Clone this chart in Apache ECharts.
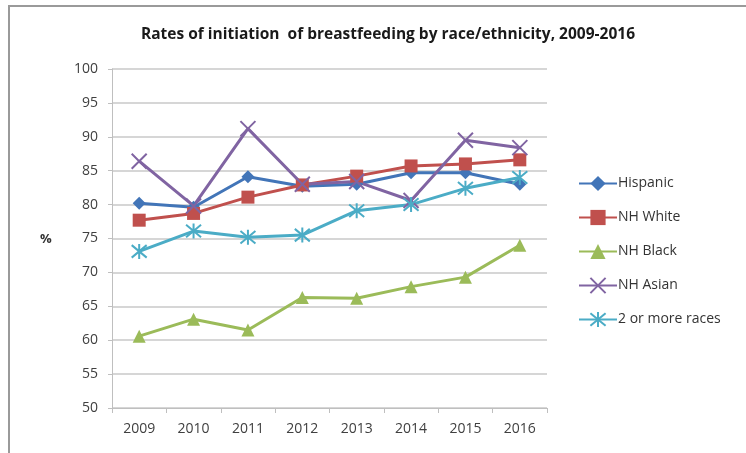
<!DOCTYPE html>
<html>
<head>
<meta charset="utf-8">
<script src="https://cdn.jsdelivr.net/npm/echarts@6/dist/echarts.min.js"></script>
<style>
  html, body { margin: 0; padding: 0; background: #fff; }
  #chart { width: 746px; height: 453px; }
</style>
</head>
<body>
<div id="chart"></div>
<script>
// Breastfeeding initiation rates (%) by race/ethnicity, 2009-2016
const years = ['2009', '2010', '2011', '2012', '2013', '2014', '2015', '2016'];
const hispanic = [80.2, 79.6, 84.1, 82.7, 83.0, 84.7, 84.7, 83.0];
const nhWhite = [77.7, 78.7, 81.1, 82.9, 84.2, 85.7, 86.0, 86.6];
const nhBlack = [60.6, 63.1, 61.5, 66.3, 66.2, 67.9, 69.3, 74.0];
const nhAsian = [86.4, 79.8, 91.2, 83.0, 83.4, 80.6, 89.5, 88.4];
const multiRace = [73.1, 76.1, 75.2, 75.5, 79.1, 80.0, 82.4, 84.0];
const yTicks = { min: 50, max: 100, step: 5 };

const FONT = '"Open Sans", "Liberation Sans", sans-serif';
const xMark = 'path://M0,0L10,10M10,0L0,10';
const starMark = 'path://M0,0L10,10M10,0L0,10M5,-1L5,11';

function lineSeries(name, data, color, symbol, size, stroked) {
  return {
    name: name,
    type: 'line',
    data: data,
    symbol: symbol,
    symbolSize: size,
    showSymbol: true,
    lineStyle: { color: color, width: 3 },
    itemStyle: stroked
      ? { color: color, borderColor: color, borderWidth: 2 }
      : { color: color, borderWidth: 0 },
    emphasis: { disabled: true },
    z: 3
  };
}

const chart = echarts.init(document.getElementById('chart'), null, { renderer: 'canvas' });
chart.setOption({
  animation: false,
  backgroundColor: '#ffffff',
  title: {
    text: 'Rates of initiation  of breastfeeding by race/ethnicity, 2009-2016',
    left: 383,
    textAlign: 'center',
    top: 22,
    textStyle: { fontFamily: FONT, fontSize: 15.5, fontWeight: 'bold', color: '#1a1a1a' }
  },
  graphic: [
    {
      type: 'rect',
      shape: { x: 9, y: 6, width: 760, height: 470 },
      style: { fill: 'none', stroke: '#9a9a9a', lineWidth: 2 },
      silent: true
    },
    {
      type: 'text',
      left: 40,
      top: 233,
      style: { text: '%', font: 'bold 13px ' + FONT, fill: '#333' }
    }
  ],
  legend: {
    orient: 'vertical',
    left: 573,
    top: 169,
    itemGap: 15,
    itemWidth: 38,
    itemHeight: 19,
    textStyle: { fontFamily: FONT, fontSize: 14, color: '#333', lineHeight: 19, padding: [0, 0, 0, -4] },
    data: ['Hispanic', 'NH White', 'NH Black', 'NH Asian', '2 or more races']
  },
  grid: { left: 112, right: 199, top: 69, bottom: 45 },
  xAxis: {
    type: 'category',
    data: years,
    boundaryGap: true,
    axisLine: { lineStyle: { color: '#bfbfbf', width: 1 } },
    axisTick: { show: true, length: 5, alignWithLabel: false, lineStyle: { color: '#bfbfbf' } },
    axisLabel: { fontFamily: FONT, fontSize: 14, color: '#404040', margin: 14 },
    splitLine: { show: false }
  },
  yAxis: {
    type: 'value',
    min: yTicks.min,
    max: yTicks.max,
    interval: yTicks.step,
    axisLine: { show: true, lineStyle: { color: '#bfbfbf', width: 1 } },
    axisTick: { show: true, length: 4, lineStyle: { color: '#bfbfbf' } },
    axisLabel: { fontFamily: FONT, fontSize: 14, color: '#404040', margin: 14 },
    splitLine: { show: true, lineStyle: { color: '#c8c8c8', width: 1.5 } }
  },
  series: [
    lineSeries('Hispanic', hispanic, '#4275b8', 'diamond', 13, false),
    lineSeries('NH White', nhWhite, '#c0504d', 'rect', 13, false),
    lineSeries('NH Black', nhBlack, '#9bbb59', 'triangle', 13, false),
    lineSeries('NH Asian', nhAsian, '#8064a2', xMark, 15, true),
    lineSeries('2 or more races', multiRace, '#4bacc6', starMark, 15, true)
  ]
});
</script>
</body>
</html>
